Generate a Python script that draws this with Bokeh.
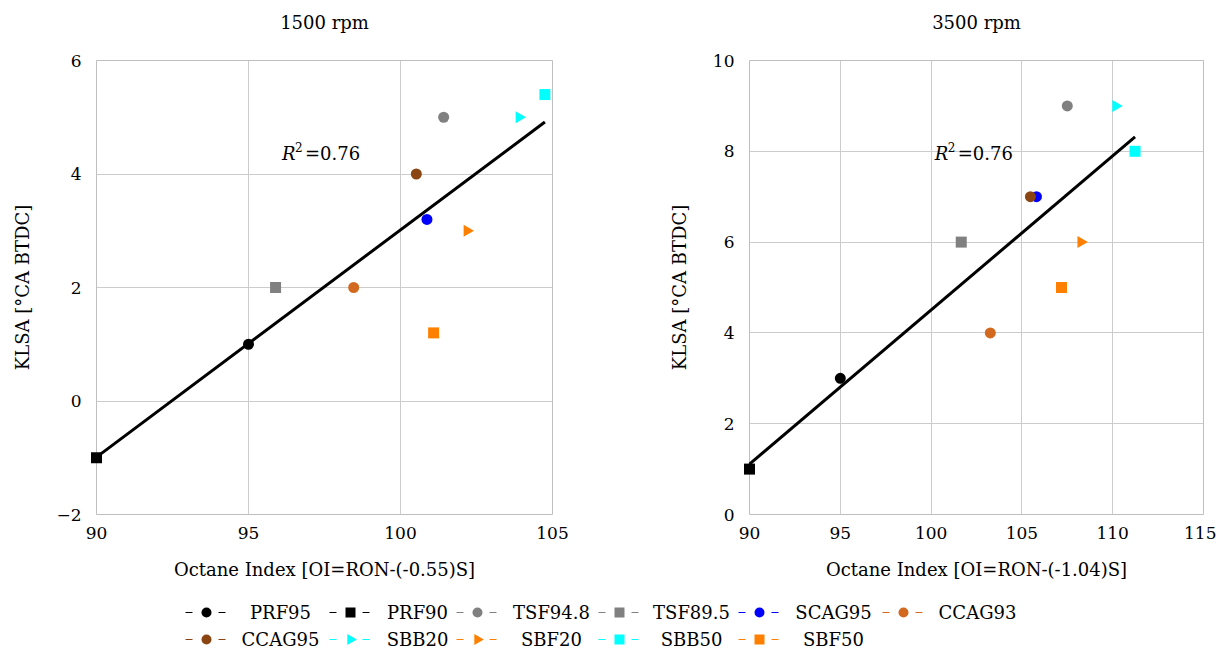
import numpy as np
from bokeh.plotting import figure
from bokeh.models import Range1d, Label
from bokeh.core.properties import value
from bokeh.layouts import row, column
from bokeh.embed import file_html
from bokeh.resources import INLINE

# ---------------- data ----------------
series = ["PRF95", "PRF90", "TSF94.8", "TSF89.5", "SCAG95", "CCAG93",
          "CCAG95", "SBB20", "SBF20", "SBB50", "SBF50"]
colors = ["#000000", "#000000", "#808080", "#808080", "#0000ff", "#d2691e",
          "#8b4513", "#00ffff", "#ff8000", "#00ffff", "#ff8000"]
markers = ["circle", "square", "circle", "square", "circle", "circle",
           "circle", "triangle", "triangle", "square", "square"]

oi_1500 = [95.0, 90.0, 101.42, 95.89, 100.87, 98.46, 100.52, 103.9, 102.19, 104.75, 101.09]
klsa_1500 = [1.0, -1.0, 5.0, 2.0, 3.2, 2.0, 4.0, 5.0, 3.0, 5.4, 1.2]
oi_3500 = [95.0, 90.0, 107.5, 101.66, 105.8, 103.26, 105.47, 110.17, 108.25, 111.23, 107.18]
klsa_3500 = [3.0, 1.0, 9.0, 6.0, 7.0, 4.0, 7.0, 9.0, 6.0, 8.0, 5.0]

titles = ["1500 rpm", "3500 rpm"]
xlabels = ["Octane Index [OI=RON-(-0.55)S]", "Octane Index [OI=RON-(-1.04)S]"]
ylabel = "KLSA [°CA BTDC]"
r2_text = ["0.76", "0.76"]
xrange_1500 = (90, 105)
yrange_1500 = (-2, 6)
xrange_3500 = (90, 115)
yrange_3500 = (0, 10)
xticks_1500 = [90, 95, 100, 105]
yticks_1500 = [-2, 0, 2, 4, 6]
xticks_3500 = [90, 95, 100, 105, 110, 115]
yticks_3500 = [0, 2, 4, 6, 8, 10]

# legend layout (screen px): glyph start of each column, label centre of each column
leg_cols = 6
leg_glyph_x = [185, 329, 456, 598, 738, 882]
leg_label_cx = [280, 417, 551, 691, 833, 977]
leg_row_y = [38, 11]

FONT = "DejaVu Serif"
FS = "18px"
FS_TICK = "17px"
GRID = "#cccccc"
TXT = "#000000"

# panel geometry (px)
FH = 454                       # frame height
TITLE_H, TOP_GAP = 50, 10       # title strip height, gap above frame
P1 = dict(left=96, frame=456, right=96)
P2 = dict(left=101, frame=454, right=13)


def style(p, xticks, yticks, xlabel):
    p.outline_line_color = "#bfbfbf"
    p.outline_line_width = 1
    p.xaxis.ticker = xticks
    p.yaxis.ticker = yticks
    p.xgrid.ticker = xticks
    p.ygrid.ticker = yticks
    for ax in (p.xaxis[0], p.yaxis[0]):
        ax.axis_line_color = None
        ax.major_tick_line_color = None
        ax.minor_tick_line_color = None
        ax.major_label_text_font = FONT
        ax.major_label_text_font_size = FS_TICK
        ax.major_label_text_color = TXT
        ax.axis_label_text_font = FONT
        ax.axis_label_text_font_size = FS
        ax.axis_label_text_font_style = "normal"
        ax.axis_label_text_color = TXT
    p.xaxis.major_label_standoff = 6
    p.yaxis.major_label_standoff = 9
    p.xaxis.axis_label_standoff = 17
    p.yaxis.axis_label_standoff = 20
    p.xaxis.axis_label = xlabel
    p.yaxis.axis_label = ylabel
    p.yaxis.major_label_overrides = {t: ("\u2212" + str(-t)) for t in yticks if t < 0}
    p.grid.grid_line_color = GRID
    p.grid.grid_line_width = 1


def marker_kw(i):
    if markers[i] == "triangle":
        return dict(angle=-np.pi / 2, size=12)
    return dict(size=11)


def add_points(p, xs, ys):
    for i in range(len(series)):
        p.scatter([xs[i]], [ys[i]], marker=markers[i], fill_color=colors[i],
                  line_color=colors[i], line_width=0, level="overlay", **marker_kw(i))
    slope, icpt = np.polyfit(xs, ys, 1)
    x0, x1 = min(xs), max(xs)
    p.line([x0, x1], [slope * x0 + icpt, slope * x1 + icpt], line_color="black",
           line_width=3, level="overlay")


def add_r2(p, x, y, txt):
    p.add_layout(Label(x=x, y=y, text="R", text_font=FONT, text_font_size=FS,
                       text_font_style="italic", text_baseline="middle", text_color=TXT))
    p.add_layout(Label(x=x, y=y, x_offset=13, y_offset=7, text="2", text_font=FONT,
                       text_font_size="12px", text_baseline="middle", text_color=TXT))
    p.add_layout(Label(x=x, y=y, x_offset=23, text="=" + txt, text_font=FONT,
                       text_font_size=FS, text_baseline="middle", text_color=TXT))


def make_plot(g, xr, yr, xticks, yticks, xlabel):
    p = figure(frame_width=g["frame"], frame_height=FH, x_range=Range1d(*xr), y_range=Range1d(*yr),
               min_border_left=g["left"], min_border_right=g["right"], min_border_top=TOP_GAP,
               min_border_bottom=70, toolbar_location=None, output_backend="svg")
    style(p, xticks, yticks, xlabel)
    return p


def make_title(g, text):
    w = g["left"] + g["frame"] + g["right"]
    t = figure(width=w, height=TITLE_H, x_range=Range1d(0, w), y_range=Range1d(0, TITLE_H),
               x_axis_type=None, y_axis_type=None, toolbar_location=None, output_backend="svg",
               min_border=0, outline_line_color=None)
    t.grid.visible = False
    t.text(x=[g["left"] + g["frame"] / 2], y=[TITLE_H - 22], text=[text], text_align="center",
           text_baseline="middle", text_font=value(FONT), text_font_size=FS, text_color=TXT)
    return t


p1 = make_plot(P1, xrange_1500, yrange_1500, xticks_1500, yticks_1500, xlabels[0])
add_points(p1, oi_1500, klsa_1500)
add_r2(p1, 96.1, 4.36, r2_text[0])

p2 = make_plot(P2, xrange_3500, yrange_3500, xticks_3500, yticks_3500, xlabels[1])
add_points(p2, oi_3500, klsa_3500)
add_r2(p2, 100.2, 7.95, r2_text[1])

t1 = make_title(P1, titles[0])
t2 = make_title(P2, titles[1])

# ---------------- legend (two rows on a six-column grid) ----------------
LW, LH = 1216, 66
lf = figure(width=LW, height=LH, x_range=Range1d(0, LW), y_range=Range1d(0, LH),
            x_axis_type=None, y_axis_type=None, toolbar_location=None, output_backend="svg",
            min_border=0, outline_line_color=None)
lf.grid.visible = False
for i in range(len(series)):
    c = i % leg_cols
    r = i // leg_cols
    gx = leg_glyph_x[c]
    gy = leg_row_y[r]
    lf.segment(x0=[gx, gx + 33], y0=[gy, gy], x1=[gx + 7, gx + 40], y1=[gy, gy],
               line_color=colors[i], line_width=1)
    kw = marker_kw(i)
    kw["size"] = kw["size"] - 1
    lf.scatter([gx + 21], [gy], marker=markers[i], fill_color=colors[i],
               line_color=colors[i], line_width=0, **kw)
    lf.text(x=[leg_label_cx[c]], y=[gy], text=[series[i]], text_align="center",
            text_baseline="middle", text_font=value(FONT), text_font_size=FS,
            text_color=TXT)

layout = column(row(t1, t2, spacing=0), row(p1, p2, spacing=0), lf, spacing=0)

open("out.html", "w").write(file_html(layout, INLINE))
